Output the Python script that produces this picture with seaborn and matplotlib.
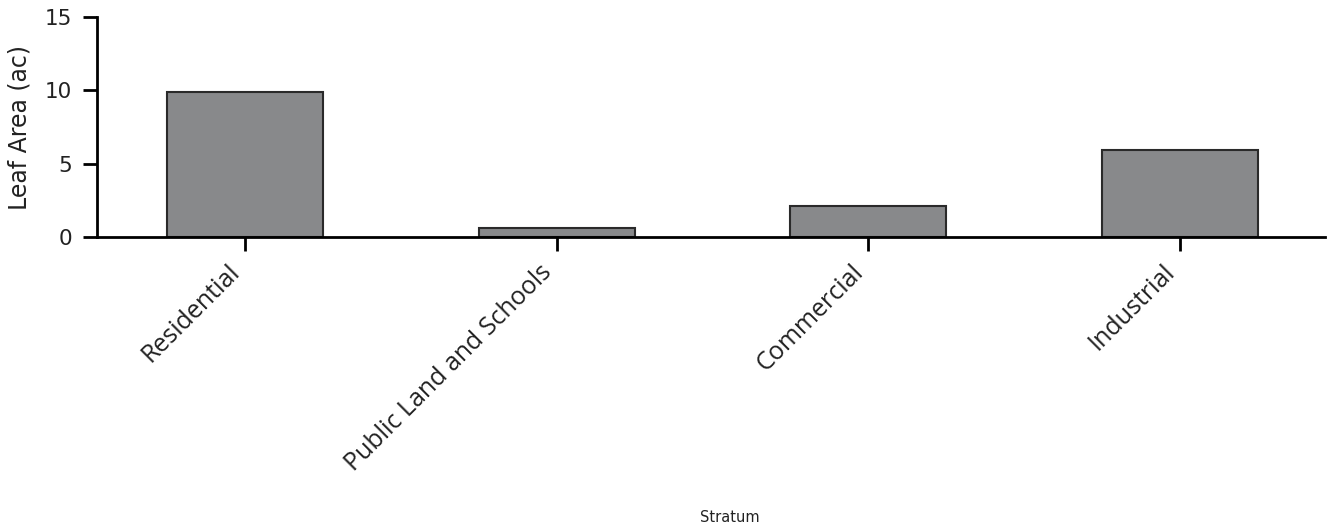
import matplotlib
matplotlib.use("Agg")
import matplotlib.pyplot as plt
import seaborn as sns
import pandas as pd

categories = ["Residential", "Public Land and Schools", "Commercial", "Industrial"]
leaf_area = [9.9, 0.6, 2.1, 5.9]
y_ticks = [0, 5, 10, 15]

sns.set_style("ticks")
plt.rcParams["font.family"] = ["DejaVu Sans"]

df = pd.DataFrame({"Stratum": categories, "Leaf Area (ac)": leaf_area})

fig = plt.figure(figsize=(13.27, 5.29), dpi=100)
ax = fig.add_axes([97/1327, 1 - 237/529, (1325 - 97)/1327, (237 - 17)/529])

sns.barplot(data=df, x="Stratum", y="Leaf Area (ac)", ax=ax, color="#88898b",
            saturation=1, width=0.5, edgecolor="#2a2a2a", linewidth=1.5)

ax.set_xlim(-0.475, 3.465)
ax.set_ylim(0, 15)
ax.set_yticks(y_ticks)
ax.set_yticklabels([str(t) for t in y_ticks], fontsize=15.5, color="#222222")
ax.set_xticks(range(len(categories)))
ax.set_xticklabels(categories, rotation=45, ha="right", va="bottom", rotation_mode="anchor",
                   fontsize=18, family=["Open Sans", "DejaVu Sans"], color="#222222")

for side in ["top", "right"]:
    ax.spines[side].set_visible(False)
for side in ["left", "bottom"]:
    ax.spines[side].set_linewidth(2)
    ax.spines[side].set_color("black")
ax.tick_params(axis="both", length=10, width=2, color="black", direction="out")
ax.tick_params(axis="y", pad=8)
ax.tick_params(axis="x", pad=19)

ax.set_ylabel("Leaf Area (ac)", fontsize=17, color="#222222")
ax.set_xlabel("Stratum", fontsize=10.5, color="#222222")
ax.xaxis.set_label_coords((730 - 97) / 1228, -(510 - 237) / 220)
ax.yaxis.set_label_coords(-(97 - 31) / 1228, 0.5)

fig.savefig("out.png", dpi=100)
